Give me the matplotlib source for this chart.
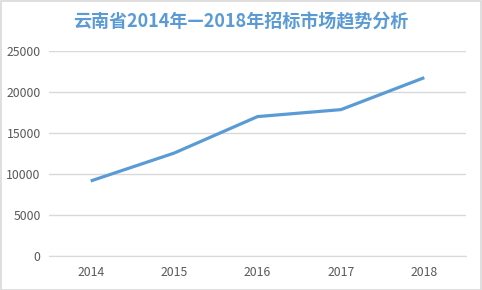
import matplotlib
matplotlib.use('Agg')
import matplotlib.pyplot as plt
from matplotlib.patches import Rectangle

plt.rcParams['font.family'] = ['Noto Sans CJK SC', 'DejaVu Sans']

# 数据
years = ['2014', '2015', '2016', '2017', '2018']
values = [9150, 12550, 17000, 17850, 21750]
title = '云南省2014年—2018年招标市场趋势分析'

W, H = 482, 290
fig = plt.figure(figsize=(W / 100, H / 100), dpi=100)

# 外边框
fig.patches.append(Rectangle((0.5 / W, 0.5 / H), 1 - 1.5 / W, 1 - 1.5 / H,
                             transform=fig.transFigure, fill=False,
                             edgecolor='#D9D9D9', linewidth=1.2))

ax = fig.add_axes([49 / W, (H - 256) / H, (466 - 49) / W, (256 - 51) / H])
ax.plot(range(len(years)), values, color='#5B9BD5', linewidth=2.3,
        solid_capstyle='butt')

ax.set_xlim(-0.5, len(years) - 0.5)
ax.set_ylim(0, 25000)
ax.set_yticks(range(0, 25001, 5000))
ax.set_xticks(range(len(years)))
ax.set_xticklabels(years)

ax.grid(axis='y', color='#D9D9D9', linewidth=1)
ax.set_axisbelow(True)
for s in ['top', 'right', 'left']:
    ax.spines[s].set_visible(False)
ax.spines['bottom'].set_color('#D9D9D9')
ax.tick_params(length=0, colors='#595959', labelsize=8.8)
ax.tick_params(axis='x', pad=7)
ax.tick_params(axis='y', pad=6)

fig.text(0.5, (H - 22) / H, title, ha='center', va='center',
         fontsize=13, fontweight='bold', color='#5B9BD5')

fig.savefig('out.png', dpi=100)
